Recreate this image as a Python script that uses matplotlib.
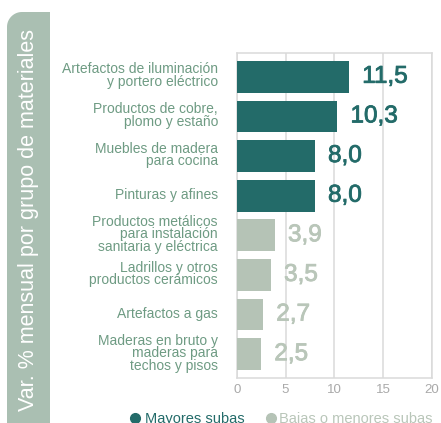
import matplotlib
matplotlib.use("Agg")
import matplotlib.pyplot as plt
import matplotlib.patheffects as pe
import numpy as np
from matplotlib.patches import Polygon
from matplotlib.lines import Line2D

categories = [
    "Artefactos de iluminación\ny portero eléctrico",
    "Productos de cobre,\nplomo y estaño",
    "Muebles de madera\npara cocina",
    "Pinturas y afines",
    "Productos metálicos\npara instalación\nsanitaria y eléctrica",
    "Ladrillos y otros\nproductos cerámicos",
    "Artefactos a gas",
    "Maderas en bruto y\nmaderas para\ntechos y pisos",
]
values = [11.5, 10.3, 8.0, 8.0, 3.9, 3.5, 2.7, 2.5]
groups = ["top", "top", "top", "top", "low", "low", "low", "low"]
value_labels = ["11,5", "10,3", "8,0", "8,0", "3,9", "3,5", "2,7", "2,5"]
xticks = [0, 5, 10, 15, 20]
legend_labels = ["Mayores subas", "Bajas o menores subas"]

DARK = "#236b69"
LIGHT = "#b5c3b6"
LIGHT_TXT = "#b9c6b9"
CAT_TXT = "#6e9b83"
GRID = "#dadada"
SIDE = "#aabfb2"

plt.rcParams["font.family"] = ["Liberation Sans", "DejaVu Sans"]

W, H = 441, 423
fig = plt.figure(figsize=(W / 100, H / 100), dpi=100)
PT = 72 / 100  # points per pixel


def fx(px):
    return px / W


def fy(py):
    return 1 - py / H


# sidebar with rounded top-left corner (pixel coords, y downwards)
x0, x1, y0, y1, r = 7, 50, 12, 430, 15
th = np.linspace(np.pi, np.pi / 2, 20)
arc = [(x0 + r + r * np.cos(t), y0 + r - r * np.sin(t)) for t in th]
pts = [(x0, y1)] + arc + [(x1, y0), (x1, y1)]
fig.add_artist(Polygon([(fx(a), fy(b)) for a, b in pts], closed=True,
                       transform=fig.transFigure, facecolor=SIDE, edgecolor="none"))
fig.text(fx(28.5), fy(220), "Var. % mensual por grupo de materiales",
         rotation=90, color="white", fontsize=15.5, ha="center", va="center")

ax = fig.add_axes([fx(236.7), fy(378), (432 - 236.7) / W, (378 - 53) / H])
y = np.arange(len(values))
colors = [DARK if g == "top" else LIGHT for g in groups]
ax.barh(y, values, height=0.8, color=colors, zorder=3)
for yi, v, lab, g in zip(y, values, value_labels, groups):
    c = DARK if g == "top" else LIGHT_TXT
    ax.annotate(lab, (v, yi), xytext=(9.5, 0), textcoords="offset points",
                ha="left", va="center", fontsize=17.5, color=c, zorder=4,
                path_effects=[pe.withStroke(linewidth=0.6, foreground=c)])

# category labels, drawn line by line for tight, even spacing
step = 12.7
for yi, cat in zip(y, categories):
    lines = cat.split("\n")
    n = len(lines)
    for i, line in enumerate(lines):
        off = 3 + (i - (n - 1) / 2) * step  # pixels below bar centre
        ax.annotate(line, (0, yi), xycoords=("axes fraction", "data"),
                    xytext=(-18.7 * PT, -off * PT), textcoords="offset points",
                    ha="right", va="baseline", fontsize=10, color=CAT_TXT,
                    annotation_clip=False)

ax.set_xlim(0, 20)
ax.set_ylim(len(values) - 0.4, -0.6)
ax.set_xticks(xticks)
ax.set_xticklabels([str(t) for t in xticks], color="#a9a9a9", fontsize=9.5)
ax.set_yticks([])
ax.tick_params(axis="both", length=0)
ax.tick_params(axis="x", pad=4)
ax.grid(axis="x", color=GRID, linewidth=1.1, zorder=0)
for s in ax.spines.values():
    s.set_color(GRID)
    s.set_linewidth(1.1)

# legend row, cut by the bottom edge as in the source
for (dot_x, text_x), lab, c, tc in zip([(135, 145), (270.5, 279)], legend_labels,
                                       [DARK, LIGHT], [DARK, LIGHT_TXT]):
    fig.add_artist(Line2D([fx(dot_x)], [fy(418)], marker="o", markersize=7,
                          color=c, linestyle="none", transform=fig.transFigure))
    fig.text(fx(text_x), fy(423), lab, color=tc, fontsize=10.5,
             ha="left", va="baseline")

fig.savefig("out.png", dpi=100)
